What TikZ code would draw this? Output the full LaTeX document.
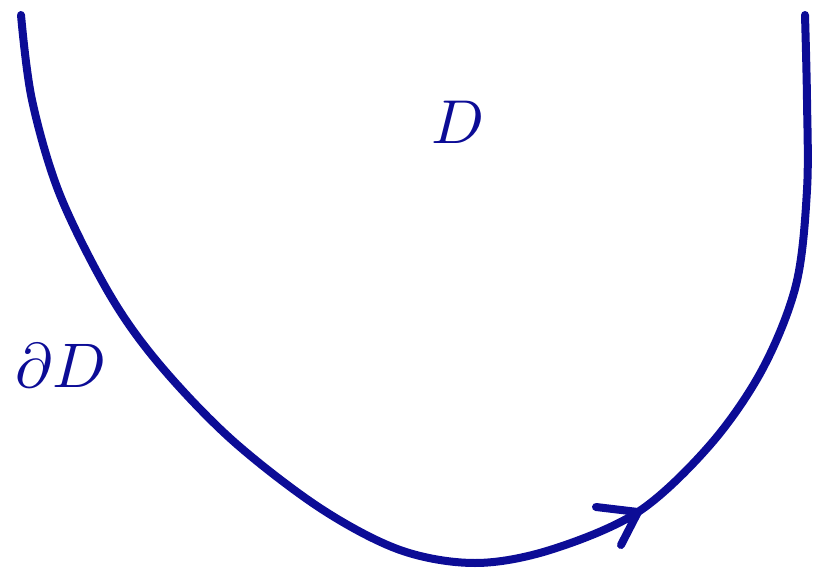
\documentclass[tikz,border=0pt]{standalone}
\usetikzlibrary{arrows.meta}
\definecolor{curveblue}{RGB}{12,12,150}
\begin{document}
\begin{tikzpicture}[x=1pt,y=-1pt,
  boundary/.style={draw=curveblue,line width=8pt,line cap=round,line join=round},
  lbl/.style={text=curveblue,inner sep=0pt}]
\useasboundingbox (0,0) rectangle (823,570);
\draw[boundary] plot[smooth,tension=0.55] coordinates {
  (21,15) (32,100) (60,195) (110,295) (160,365) (232,440) (320,508)
  (400,550) (475,563) (550,550) (638,512) (710,445) (762,370) (796,285)
  (807,190) (807,100) (805,15)};
\coordinate (tip) at (638,512);
\draw[boundary] (596,507) -- (tip) -- (621,545);
\node[lbl] (D) at (458,122) {\scalebox{6.2}{$D$}};
\node[lbl] (dD) at (61,366) {\scalebox{6.3}{$\partial D$}};
\end{tikzpicture}
\end{document}
